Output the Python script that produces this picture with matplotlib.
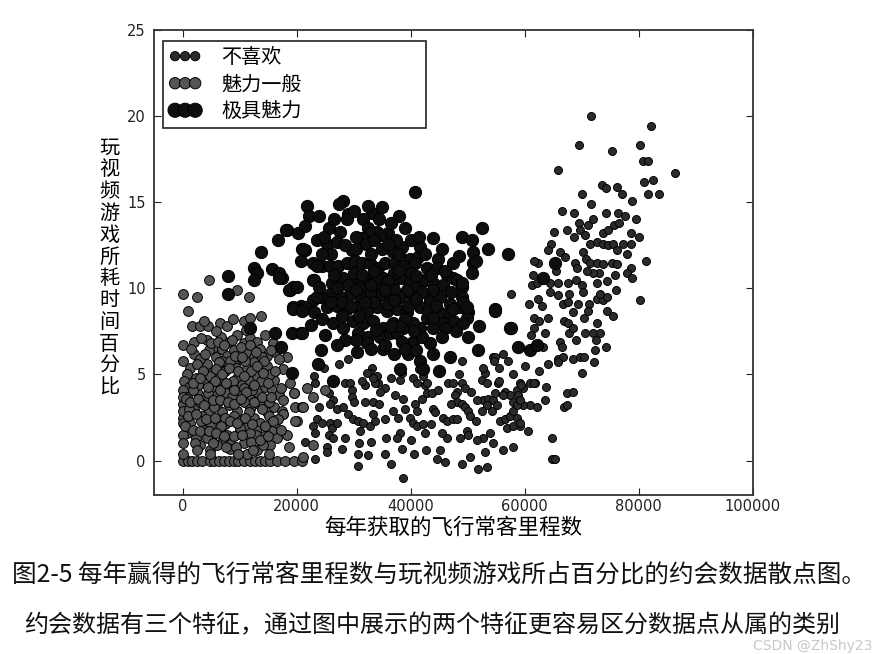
import matplotlib
matplotlib.use("Agg")
import matplotlib.pyplot as plt

plt.rcParams['font.family'] = ['DejaVu Sans', 'Noto Sans CJK SC']

# ---------------- data (flier miles per year, % time playing video games) -------------
labels = ['不喜欢', '魅力一般', '极具魅力']

dislike_pts = [
    (23100,4.9),(23300,4.5),(25600,3.9),(26400,3.5),(25900,3.3),(27100,3.0),(28200,3.1),
    (28500,4.5),(29400,4.5),(29800,4.1),(29800,3.7),(29100,2.7),(29900,2.4),(30800,2.3),
    (23600,2.4),(24500,2.2),(22800,2.0),(23300,1.6),(25900,2.2),(26200,1.9),(25600,1.5),
    (26400,1.3),(25400,0.8),(25400,0.5),(23300,0.1),(31100,1.7),(31600,2.2),(32900,2.0),
    (33800,2.3),(33400,2.7),(32000,3.4),(33400,3.4),(31000,1.0),(33100,1.1),(30800,0.4),
    (30800,-0.3),(35700,1.3),(35500,0.4),(33300,5.4),(34100,4.9),(34300,4.5),(35500,4.2),
    (34700,4.0),(37300,3.8),(38700,3.6),(38200,4.7),(38500,5.1),(36900,2.9),(37800,2.5),
    (38200,1.6),(38500,0.7),(37600,1.3),(38700,-1.0),(39900,2.5),(40400,2.2),(41100,2.0),
    (42200,2.1),(42500,1.6),(40800,3.3),(41100,2.9),(42000,3.6),(42900,3.9),(43800,3.9),
    (40400,4.8),(41100,4.5),(42500,4.4),(42900,4.5),(42200,4.9),(43900,3.0),(44300,2.8),
    (42700,0.6),(44600,0.1),(45200,0.6),(45700,2.5),(46400,2.3),(47400,2.4),(48100,2.4),
    (46400,1.3),(46600,4.5),(47400,4.5),(48100,4.0),(49000,4.5),(49500,4.2),(47800,3.8),
    (48100,3.4),(49000,3.3),(49500,3.1),(50000,2.9),(50400,2.6),(49000,5.8),(52500,4.7),
    (53000,5.1),(52700,5.4),(53400,4.5),(55300,4.5),(54400,6.0),(56200,6.2),(57100,5.8),
    (56500,4.0),(57400,3.8),(56200,3.8),(52700,3.5),(53600,3.6),(54400,3.5),(55100,3.2),
    (54300,2.9),(53400,3.2),(52500,2.9),(51600,3.5),(55700,2.3),(56500,2.4),(57400,2.6),
    (57900,2.9),(58600,2.5),(59200,2.0),(56900,1.9),(57900,2.0),(59200,2.2),(60600,1.7),
    (53900,1.6),(52700,1.3),(51600,1.2),(49900,1.7),(50000,1.5),(48700,1.3),(49000,-0.2),
    (50400,0.2),(51800,-0.5),(53400,-0.4),(56200,0.6),(57900,0.8),(59200,4.5),(59700,4.2),
    (60900,3.2),(61800,4.5),(62100,3.1),(58600,4.1),(64700,1.3),(64700,0.1),(65300,0.1),
    (63700,4.3),(59300,4.4),(58800,3.8),(67400,3.9),(68400,4.0),(66900,3.1),(67400,3.2),
    (55500,4.6),(54800,3.9),(54800,6.0),(54600,5.8),(32900,5.1),(33800,4.5),(33400,4.8),
    (32000,4.4),(32400,5.1),(60900,4.5),(59700,3.2),(57900,3.4),(58600,3.2),(59200,3.5),
    (21500,1.1),(24000,3.1),(27000,2.2),(28500,1.3),(30000,3.4),(31500,4.6),(34500,3.3),
    (35500,2.4),(36500,4.8),(39000,3.0),(40000,1.2),(41500,5.3),(43500,2.1),(44800,4.1),
    (45500,1.6),(47000,3.3),(48500,5.0),(50500,4.0),(51500,2.3),(53000,0.5),(54500,1.0),
    (55500,5.4),(58000,5.0),(60000,5.5),(62500,5.2),(63500,3.5),(36500,-0.2),(40500,0.4),
    (46000,-0.1),(32500,0.3),(28000,0.7),(26500,4.6),(24800,5.4),(27500,5.6),(29000,5.9),
    (71600,20.0),(82100,19.4),(69500,18.3),(75300,18.0),(65800,16.9),(80200,18.3),
    (80700,17.4),(81600,17.4),(86300,16.7),(80900,16.2),(81600,15.5),(83500,15.5),
    (73500,16.0),(74200,15.8),(76100,15.9),(78800,15.1),(71700,14.9),(68600,14.4),
    (74200,14.4),(76300,14.4),(77500,14.2),(69500,13.8),(75600,13.7),(76500,13.8),
    (65100,13.3),(67400,13.4),(69700,13.4),(70500,13.1),(68600,13.0),(73700,13.2),
    (74600,13.4),(78600,13.2),(80000,13.0),(64600,12.6),(71400,12.6),(72600,12.7),
    (73700,12.6),(74600,12.5),(75400,12.6),(77200,12.6),(78600,12.6),(64100,12.2),
    (66200,12.1),(70200,12.1),(76100,12.2),(62300,11.5),(61600,11.6),(68800,11.5),
    (69100,11.2),(70700,11.7),(71400,11.5),(72600,11.5),(73700,11.4),(75300,11.5),
    (76100,11.4),(78600,11.2),(81200,11.6),(61400,10.8),(61300,10.2),(62100,10.3),
    (64400,10.3),(65800,10.3),(67600,10.3),(67700,9.7),(70000,10.2),(70200,9.8),
    (72600,10.3),(73000,10.9),(71900,10.9),(70900,11.0),(75800,10.8),(77900,10.9),
    (78800,10.6),(65800,9.6),(66700,9.1),(67600,9.2),(69300,9.1),(71200,9.1),(71100,8.7),
    (72600,9.4),(73700,9.3),(74400,9.5),(73200,9.7),(80200,9.3),(60800,9.1),(62300,9.4),
    (57600,9.7),(61600,8.3),(62500,8.1),(64100,8.3),(66900,8.1),(67600,8.0),(68400,8.6),
    (70400,8.3),(72600,8.0),(74400,8.7),(75500,8.4),(61600,7.7),(61100,7.3),(66200,6.9),
    (66500,6.6),(67700,7.4),(68400,7.7),(70500,7.4),(71900,7.4),(73200,7.4),(60800,6.4),
    (63200,6.6),(65800,5.9),(66700,6.0),(65800,5.7),(68400,5.9),(69700,6.0),(70400,6.0),
    (72300,6.4),(72100,5.7),(74200,6.6),(64100,5.6),(70000,5.1),(61600,4.5),
    (63000,9.0),(64500,9.8),(69000,10.5),(74500,10.4),(76000,9.9),(71000,13.7),
    (72000,14.0),(67000,11.8),(65500,11.0),(72500,7.0),(69000,7.0),(63500,7.4),
    (78000,12.0),(79500,14.0),(77000,15.5),(70000,15.5),(82500,16.3),(66500,14.5),
]

average_pts = [
    (6700,7.2),(8100,6.9),(9600,7.3),(10700,6.8),(11900,7.1),(13100,6.9),(14500,7.3),
    (15900,6.8),(4300,7.0),(5500,6.6),(2000,6.9),
    (2000,6.2),(4600,6.4),(5800,6.0),(6900,6.5),(7800,6.1),(9000,6.4),(9900,5.9),
    (11300,6.3),(12500,6.0),(13650,6.5),(14800,6.1),(16300,6.3),(18300,6.0),
    (1400,5.4),(4300,5.6),(5200,5.1),(6400,5.5),(7500,5.2),(9000,5.6),(10150,5.0),
    (11300,5.4),(12500,5.7),(13400,5.2),(14800,5.5),(17700,5.3),(800,5.0),
    (230,4.6),(1100,4.3),(2300,4.8),(3700,4.5),(4900,4.9),(6100,4.4),(6900,4.7),
    (8400,4.3),(9600,4.8),(10400,4.4),(11900,4.6),(13100,4.9),(14500,4.3),(16000,4.7),
    (18900,4.5),
    (0,4.1),(820,3.7),(2600,4.0),(4000,3.6),(5200,4.2),(6100,3.8),(7200,4.1),(8400,3.6),
    (9600,3.9),(10700,4.2),(11900,3.7),(13100,4.0),(14500,3.6),(15700,4.1),(16900,3.8),
    (17700,3.5),(19500,3.9),
    (0,3.3),(2000,3.0),(3150,3.4),(4600,2.9),(6100,3.3),(6900,2.8),(8100,3.2),(9600,2.9),
    (10700,3.4),(11900,3.0),(13400,3.3),(14800,2.8),(16000,3.1),(17400,2.9),(19800,3.1),
    (0,2.5),(1400,2.2),(3400,2.6),(4900,2.0),(6100,2.4),(7500,2.1),(9000,2.6),(10150,2.3),
    (11300,2.0),(12500,2.5),(13650,2.2),(15100,2.6),(16300,2.0),(17700,2.7),(20100,2.3),
    (820,1.6),(2300,1.3),(3700,1.8),(5200,1.4),(6650,1.7),(8400,1.2),(9900,1.6),
    (11300,1.3),(12800,1.8),(14200,1.4),(15700,1.7),(18300,1.5),
    (3150,0.9),(4900,0.6),(6900,1.1),(8400,0.7),(10700,1.0),(13100,0.6),(15400,0.9),
    (18600,0.8),
    (0,0),(1000,0),(1700,0),(2600,0),(3400,0),(4900,0),(5600,0),(6400,0),(7200,0),
    (8100,0),(9000,0),(9800,0),(10800,0),(11900,0),(12700,0),(13600,0),(14500,0),
    (15400,0),(16600,0),(18000,0),(19500,0),(21000,0),
    (0,0.4),(4900,0.4),(11300,0.4),(15100,0.4),
    (0,6.7),(0,5.8),(0,3.7),(0,2.9),(0,2.2),(0,9.7),(0,1.5),(0,1.0),
    (1700,7.8),(3150,7.8),(4500,7.8),(3700,8.1),(6600,8.0),(7800,7.8),(10700,8.1),
    (11900,8.3),(13700,8.4),(2600,9.5),(1000,8.7),(4600,10.5),(9500,9.9),(11600,9.5),
    (17700,2.7),(19800,2.3),(21000,3.1),(21900,4.2),(19500,3.9),(22900,3.7),(21200,3.1),
    (22900,0.9),(21200,0.2),(25000,4.1),
    (3000,5.9),(5000,6.8),(7000,5.8),(8700,7.0),(10300,6.6),(12000,5.2),(13900,6.0),
    (15300,5.0),(2700,4.4),(4500,3.9),(5700,4.6),(7600,3.9),(8900,4.6),(10900,5.8),
    (12200,4.1),(13800,4.6),(15200,3.4),(3300,2.3),(5500,3.1),(7400,2.5),(8700,3.7),
    (10000,1.9),(11600,2.8),(12900,1.5),(14000,3.0),(16700,2.4),(2200,1.0),(4300,1.3),
    (6000,0.9),(7800,1.5),(9300,0.8),(11800,1.6),(14100,0.9),(16500,1.3),(1200,3.0),
    (1900,4.1),(500,2.0),(600,3.6),(9400,5.4),(6400,5.7),(11100,7.6),(5800,7.5),(8900,8.2),
    (1500,6.5),(3200,7.1),(4000,6.2),(6300,6.9),(7200,6.7),(8300,5.8),(9200,6.1),
    (10500,6.0),(11800,6.7),(12900,6.3),(14200,5.8),(15500,6.4),(16900,5.9),(2500,5.6),
    (3600,5.2),(5900,5.3),(7000,5.0),(8200,5.4),(9700,5.2),(10800,4.9),(13000,5.5),
    (14100,5.1),(16200,5.2),(1800,4.5),(3000,4.8),(4400,4.3),(6600,4.1),(7600,4.5),
    (9000,4.1),(11200,4.0),(12600,4.4),(15000,4.5),(17200,4.2),(1300,3.4),(2800,3.6),
    (3800,3.2),(5300,3.5),(6600,3.5),(7900,3.4),(9100,3.3),(10300,3.6),(12500,3.4),
    (13900,3.7),(15600,3.7),(1000,2.6),(2300,2.7),(4100,2.4),(5700,2.5),(6800,2.0),
    (8400,2.3),(9600,2.2),(11000,2.5),(12200,2.1),(14500,2.0),(15800,2.3),(1800,1.8),
    (3000,1.7),(4600,1.7),(5900,1.6),(7200,1.4),(9000,1.4),(10500,1.5),(12000,1.1),
    (13600,1.2),(15000,1.4),(17200,1.8),(2600,0.6),(5400,1.0),(7600,0.8),(9800,0.4),
    (12300,0.6),
]

charming_pts = [
    (40800,15.6),(28200,15.1),(21900,14.8),(22200,14.2),(29100,14.3),(28900,14.0),
    (33200,14.4),(31700,14.0),(38000,14.2),(18400,13.4),(20300,13.2),(25600,13.5),
    (27600,13.3),(32600,13.5),(34100,13.3),(36000,13.2),(32900,13.2),(43900,12.9),
    (49000,13.0),(50800,12.8),(52500,13.5),(21000,12.3),(21500,12.2),(25400,12.6),
    (27100,12.7),(29800,12.2),(31500,12.9),(32200,12.6),(34700,13.1),(36900,12.1),
    (38500,12.4),(39900,11.7),(41700,12.4),(41300,11.8),(40800,11.5),(44800,11.7),
    (50900,12.1),(50900,11.5),(50800,10.9),(57000,12.0),(20700,11.6),(22900,11.5),
    (24500,11.3),(25900,11.3),(27300,11.3),(28900,11.5),(30300,11.6),(31500,11.5),
    (32900,11.5),(34300,11.2),(35500,11.5),(37300,11.5),(38700,11.3),(42900,11.2),
    (44600,11.2),(46400,10.8),(47400,10.6),(17500,10.6),(19400,10.1),(18900,9.9),
    (22900,10.5),(26200,10.3),(28200,10.6),(29800,10.5),(31100,10.1),(32600,10.5),
    (34100,10.1),(35200,10.6),(36900,10.3),(38500,10.6),(39900,10.3),(41100,10.1),
    (42500,10.5),(43900,10.3),(45700,10.2),(48100,10.5),(49000,10.1),(49000,9.5),
    (48700,8.9),(50000,8.6),(49900,8.3),(46400,8.5),(47400,8.1),(45700,8.0),(43900,7.7),
    (42900,8.3),(41700,7.7),(41700,8.9),(43400,9.3),(45200,9.5),(46900,9.1),(40400,9.5),
    (39400,9.9),(38200,9.5),(36400,9.6),(34700,9.6),(32900,9.7),(31100,9.5),(29400,9.7),
    (27600,9.5),(25900,9.7),(24200,9.5),(22900,9.3),(20700,9.0),(19400,8.9),(21500,8.9),
    (25400,8.9),(27100,9.0),(28900,8.8),(30600,8.9),(32400,8.7),(34100,8.9),(35900,8.7),
    (37600,8.8),(39400,8.6),(26400,8.0),(28200,7.7),(29900,8.1),(31700,8.0),(33400,8.1),
    (35200,7.7),(36900,8.0),(38700,7.7),(40400,8.0),(30800,7.4),(32600,7.2),(34700,7.2),
    (36400,7.4),(37600,7.4),(40400,6.9),(38500,6.9),(35200,6.5),(30600,6.3),(24200,6.4),
    (51800,6.4),(57400,7.7),(54800,8.8),(20700,7.4),
    (23800,5.6),(26400,4.6),(19200,5.1),(39600,6.2),(41700,5.8),(42200,5.3),(45000,5.2),
    (46900,6.0),(58800,6.6),(60900,6.4),(38200,5.3),(32400,6.8),(35500,6.7),(43400,6.8),
    (49000,10.3),(49200,9.2),(49900,8.9),(49200,8.0),(57600,7.7),(54800,8.7),(63200,10.6),
    (65300,11.5),(62100,6.7),
    (18200,13.4),(16800,12.8),(21200,12.3),(13800,12.1),(23600,11.3),(12600,11.2),
    (13000,10.9),(15700,11.1),(17000,10.9),(17000,10.6),(12600,10.5),(7900,10.7),
    (18700,9.9),(20100,10.1),(23000,10.5),(8000,9.7),(23600,9.5),
    (11900,7.7),(16300,7.4),(19200,7.4),(21000,7.4),(17200,6.6),(19400,8.8),(21000,8.7),
    (33000,12.0),(35000,12.3),(37000,10.9),(30000,10.9),(27000,10.0),(40000,10.9),
    (44000,9.9),(42000,9.8),(36000,9.1),(33500,9.2),(31000,8.4),(28000,8.4),(39000,8.2),
    (43000,8.7),(45000,8.6),(47000,9.8),(37500,12.8),(30500,13.0),(34000,10.6),(24000,10.1),
    (26000,12.0),(28500,12.5),(30500,12.3),(33500,12.8),(36000,12.6),(38000,12.0),
    (40000,12.8),(42500,12.0),(45500,12.3),(47500,11.5),(48500,11.9),(46000,11.0),
    (43500,10.8),(41000,10.7),(38000,11.0),(36000,10.4),(33500,11.0),(31500,10.8),
    (29000,10.2),(26500,10.8),(24500,12.0),(23500,12.8),(24800,13.0),(26500,14.0),
    (30000,14.5),(32500,14.8),(34500,14.0),(36500,13.8),(39000,13.5),(41500,13.0),
    (37000,9.9),(35500,9.9),(33000,10.2),(30500,9.9),(28000,9.2),(26000,9.2),(23000,8.6),
    (24500,8.2),(29500,9.0),(32000,9.2),(37000,9.3),(39500,9.0),(41000,9.4),(44500,9.0),
    (47500,8.8),(46000,7.7),(44000,8.3),(42000,7.2),(40500,7.5),(38000,7.8),(36500,7.8),
    (34000,7.6),(33000,6.5),(37000,6.2),(39000,6.5),(41000,6.4),(44000,6.2),(45500,7.2),
    (28500,7.0),(30500,7.0),(27000,6.7),(25000,7.3),(22500,7.9),(48000,7.5),(50000,7.2),
    (52000,7.8),(53500,12.3),(51500,11.6),(35000,14.7),(27500,14.9),(24000,14.2),
    (21500,13.6),
]

xticks = [0, 20000, 40000, 60000, 80000, 100000]
yticks = [0, 5, 10, 15, 20, 25]

caption1 = '图2-5 每年赢得的飞行常客里程数与玩视频游戏所占百分比的约会数据散点图。'
caption2 = '约会数据有三个特征，通过图中展示的两个特征更容易区分数据点从属的类别'
xlabel = '每年获取的飞行常客里程数'
ylabel = '玩视频游戏所耗时间百分比'

# ---------------- drawing ----------------
fig = plt.figure(figsize=(8.86, 6.54), dpi=100)
ax = fig.add_axes([0.1738, 0.2431, 0.676, 0.711])

styles = [
    dict(s=33, c='#2b2b2b'),
    dict(s=50, c='#555555'),
    dict(s=78, c='#0e0e0e'),
]
for pts, lab, st in zip([dislike_pts, average_pts, charming_pts], labels, styles):
    xs = [p[0] for p in pts]
    ys = [p[1] for p in pts]
    ax.scatter(xs, ys, s=st['s'], c=st['c'], edgecolors='black', linewidths=0.7,
               label=lab)

ax.set_xlim(-5000, 100000)
ax.set_ylim(-2, 25)
ax.set_xticks(xticks)
ax.set_yticks(yticks)
ax.tick_params(direction='in', top=True, right=True, length=5, width=0.8,
               labelsize=10.5, colors='#222222', pad=6)
ax.tick_params(axis='x', pad=3)
for sp in ax.spines.values():
    sp.set_linewidth(1.3)
    sp.set_color('#333333')

ax.set_xlabel(xlabel, fontsize=15.5, family=['Noto Sans CJK SC'], labelpad=2)
fig.text(109 / 886, 1 - 268 / 654, '\n'.join(ylabel), fontsize=14.5,
         family=['Noto Sans CJK SC'], ha='center', va='center', linespacing=1.05)

leg = ax.legend(loc='upper left', bbox_to_anchor=(0.015, 0, 0.439, 0.976),
                mode='expand', borderaxespad=0, scatterpoints=3,
                scatteryoffsets=[0.5], prop={'family': 'Noto Sans CJK SC', 'size': 14.5},
                fancybox=False, framealpha=1, edgecolor='#222222',
                handlelength=1.6, handletextpad=1.0, labelspacing=0.3,
                borderpad=0.3, markerscale=1.15)
leg.get_frame().set_linewidth(1.2)

fig.text(12 / 886, 1 - 575 / 654, caption1, fontsize=17.7,
         family=['Noto Sans CJK SC'], ha='left', va='center', color='#111111')
fig.text(24 / 886, 1 - 625 / 654, caption2, fontsize=17.3,
         family=['Noto Sans CJK SC'], ha='left', va='center', color='#111111')
fig.text(872 / 886, 1 - 646 / 654, 'CSDN @ZhShy23', fontsize=10,
         ha='right', va='center', color='#c8c8c8')

fig.savefig('out.png', dpi=100, facecolor='white')
